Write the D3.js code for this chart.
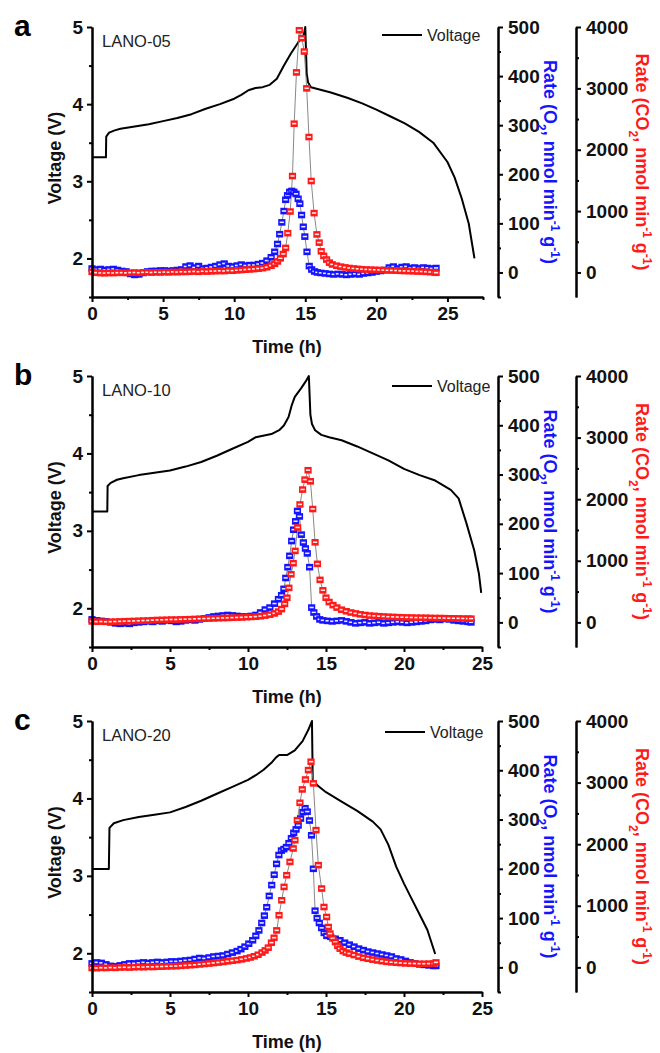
<!DOCTYPE html>
<html><head><meta charset="utf-8">
<script src="https://cdn.jsdelivr.net/npm/d3@7"></script>
<style>body{margin:0;background:#fff}svg{display:block}text{font-family:"Liberation Sans",Arial,sans-serif}</style>
</head><body><svg id="chart" width="660" height="1053"></svg>
<script>
// ---------- data ----------
const panelLetters = ["a", "b", "c"];
const sampleNames = ["LANO-05", "LANO-10", "LANO-20"];
const timeMax = [27.5, 25, 25];
const xTicks = [0, 5, 10, 15, 20, 25];
const voltageTicks = [2, 3, 4, 5];
const o2Ticks = [0, 100, 200, 300, 400, 500];
const co2Ticks = [0, 1000, 2000, 3000, 4000];
const legendLabel = "Voltage";

const voltageA = [[0,3.31],[0.98,3.31],[1.0,3.58],[1.2,3.63],[1.6,3.66],[2,3.68],[3,3.71],[4,3.74],[5,3.78],[6,3.82],[7,3.87],[8,3.94],[9,4.0],[10,4.07],[10.5,4.12],[11,4.18],[11.5,4.21],[12,4.22],[12.5,4.25],[13,4.33],[13.5,4.5],[14,4.66],[14.5,4.8],[14.9,4.9],[15.0,5.0],[15.1,4.4],[15.2,4.28],[15.4,4.22],[16,4.19],[16.8,4.15],[18,4.08],[19,4.01],[20,3.93],[21,3.84],[22,3.75],[23,3.64],[24,3.5],[25,3.25],[25.5,3.05],[26,2.78],[26.5,2.45],[26.9,2.0]];
const o2A = [[0,8],[0.3,6],[0.6,7],[0.9,5],[1.2,6],[1.5,7],[1.8,5],[2.1,3],[2.4,2],[2.7,-3],[3.0,-5],[3.3,-4],[3.6,-1],[3.9,2],[4.2,3],[4.5,3],[4.8,4],[5.1,4],[5.4,3],[5.7,4],[6.0,5],[6.3,6],[6.6,12],[6.9,14],[7.2,10],[7.5,13],[7.8,8],[8.1,9],[8.4,11],[8.7,13],[9.0,16],[9.3,18],[9.6,13],[9.9,12],[10.2,14],[10.5,16],[10.8,14],[11.1,15],[11.4,15],[11.7,17],[12.0,19],[12.3,24],[12.6,31],[12.85,42],[13.05,58],[13.2,78],[13.35,102],[13.5,125],[13.62,148],[13.75,157],[13.9,164],[14.05,166],[14.2,164],[14.35,160],[14.5,150],[14.62,140],[14.74,117],[14.86,93],[14.97,73],[15.12,42],[15.28,13],[15.45,6],[15.65,2],[15.85,0],[16.1,-1],[16.4,-2],[16.7,-3],[17.0,-4],[17.3,-3],[17.6,-4],[17.9,-5],[18.2,-4],[18.5,-3],[18.8,-4],[19.1,-2],[19.4,-1],[19.7,0],[20.0,2],[20.3,3],[20.6,5],[20.9,10],[21.2,12],[21.5,8],[21.8,11],[22.1,12],[22.4,9],[22.7,10],[23.0,8],[23.3,10],[23.6,9],[23.9,8],[24.2,9]];
const co2A = [[0,10],[0.3,-5],[0.6,-10],[0.9,-12],[1.2,-8],[1.5,-10],[1.8,-6],[2.1,-5],[2.4,-8],[2.7,-4],[3.0,-2],[3.3,-6],[3.6,0],[3.9,2],[4.2,-2],[4.5,3],[4.8,0],[5.1,5],[5.4,2],[5.7,8],[6.0,5],[6.3,10],[6.6,8],[6.9,12],[7.2,15],[7.5,10],[7.8,18],[8.1,15],[8.4,20],[8.7,22],[9.0,25],[9.3,22],[9.6,30],[9.9,28],[10.2,35],[10.5,40],[10.8,45],[11.1,50],[11.4,55],[11.7,62],[12.0,70],[12.3,85],[12.6,110],[12.85,140],[13.05,180],[13.25,230],[13.45,300],[13.62,400],[13.77,640],[13.94,993],[14.1,1571],[14.22,2424],[14.38,3260],[14.58,3947],[14.76,3817],[14.93,3600],[15.1,3000],[15.26,2207],[15.42,1490],[15.62,967],[15.82,620],[15.98,486],[16.12,345],[16.3,270],[16.5,210],[16.7,160],[16.9,130],[17.2,110],[17.5,95],[17.8,82],[18.1,72],[18.4,64],[18.7,58],[19.0,52],[19.3,48],[19.6,45],[19.9,42],[20.2,40],[20.5,38],[20.8,34],[21.1,32],[21.4,30],[21.7,26],[22.0,24],[22.3,22],[22.6,20],[22.9,16],[23.2,14],[23.5,10],[23.8,6],[24.1,0],[24.2,-5]];

const voltageB = [[0,3.25],[0.98,3.25],[1.0,3.58],[1.2,3.62],[1.6,3.66],[2,3.68],[3,3.72],[4,3.75],[5,3.78],[6,3.83],[7,3.89],[8,3.97],[9,4.06],[10,4.15],[10.5,4.21],[11.5,4.25],[12.0,4.3],[12.3,4.36],[12.6,4.47],[12.8,4.62],[13.0,4.73],[13.4,4.84],[13.7,4.93],[13.9,5.0],[14.0,4.5],[14.1,4.38],[14.3,4.3],[14.7,4.24],[15.2,4.21],[16,4.17],[17,4.09],[18,4.0],[19,3.91],[20,3.8],[21,3.72],[22,3.65],[23,3.53],[23.5,3.42],[24,3.1],[24.5,2.75],[24.8,2.45],[24.95,2.2]];
const o2B = [[0,6],[0.3,4],[0.6,3],[0.9,2],[1.2,0],[1.5,-2],[1.8,-3],[2.1,-2],[2.4,-3],[2.7,-1],[3.0,0],[3.3,1],[3.6,2],[3.9,1],[4.2,3],[4.5,2],[4.8,4],[5.1,3],[5.4,1],[5.7,2],[6.0,4],[6.3,5],[6.6,4],[6.9,6],[7.2,8],[7.5,10],[7.8,12],[8.1,13],[8.4,14],[8.7,15],[9.0,14],[9.3,13],[9.6,12],[9.9,12],[10.2,13],[10.5,15],[10.8,20],[11.1,26],[11.4,30],[11.7,38],[11.95,47],[12.15,55],[12.3,68],[12.42,90],[12.55,112],[12.67,135],[12.8,165],[12.92,188],[13.05,205],[13.17,226],[13.3,215],[13.42,178],[13.55,162],[13.68,150],[13.8,140],[13.95,112],[14.08,30],[14.22,20],[14.4,12],[14.6,6],[14.8,4],[15.1,3],[15.4,2],[15.7,3],[16.0,4],[16.3,2],[16.6,0],[16.9,-2],[17.2,-1],[17.5,0],[17.8,-2],[18.1,-1],[18.4,0],[18.7,-2],[19.0,-1],[19.3,0],[19.6,1],[19.9,0],[20.2,-1],[20.5,0],[20.8,1],[21.1,2],[21.4,3],[21.7,5],[22.0,6],[22.3,5],[22.6,7],[22.9,6],[23.2,4],[23.5,3],[23.8,2],[24.1,1],[24.3,0]];
const co2B = [[0,15],[0.3,10],[0.6,12],[0.9,8],[1.2,10],[1.5,12],[1.8,15],[2.1,18],[2.4,20],[2.7,22],[3.0,25],[3.3,28],[3.6,30],[3.9,35],[4.2,38],[4.5,40],[4.8,42],[5.1,45],[5.4,45],[5.7,48],[6.0,50],[6.3,52],[6.6,55],[6.9,58],[7.2,60],[7.5,62],[7.8,65],[8.1,68],[8.4,70],[8.7,72],[9.0,75],[9.3,78],[9.6,80],[9.9,85],[10.2,88],[10.5,92],[10.8,100],[11.1,110],[11.4,125],[11.7,145],[11.95,175],[12.15,215],[12.35,300],[12.5,400],[12.62,560],[12.76,780],[12.9,960],[13.02,1160],[13.18,1540],[13.33,1914],[13.5,2156],[13.65,2317],[13.85,2470],[14.0,2290],[14.15,1840],[14.3,1300],[14.45,950],[14.62,690],[14.8,520],[15.0,400],[15.2,330],[15.45,280],[15.7,240],[16.0,205],[16.3,180],[16.6,160],[16.9,145],[17.2,130],[17.5,120],[17.8,110],[18.1,105],[18.4,100],[18.7,95],[19.0,90],[19.3,88],[19.6,85],[19.9,82],[20.2,80],[20.5,78],[20.8,76],[21.1,75],[21.4,74],[21.7,72],[22.0,70],[22.3,70],[22.6,68],[22.9,66],[23.2,65],[23.5,64],[23.8,62],[24.1,60],[24.3,60]];

const voltageC = [[0,3.09],[1.08,3.09],[1.12,3.62],[1.4,3.68],[2,3.72],[3,3.76],[4,3.79],[5,3.82],[6,3.89],[7,3.97],[8,4.06],[9,4.15],[10,4.24],[10.5,4.3],[11,4.37],[11.5,4.46],[11.8,4.53],[12,4.56],[12.5,4.56],[13,4.62],[13.5,4.74],[13.9,4.9],[14.1,5.0],[14.15,4.24],[14.5,4.16],[15,4.08],[16,3.96],[17,3.84],[18,3.7],[18.5,3.6],[19,3.4],[19.5,3.12],[20,2.9],[20.5,2.7],[21,2.5],[21.5,2.3],[22,1.99]];
const o2C = [[0,8],[0.3,10],[0.6,9],[0.9,6],[1.2,3],[1.5,2],[1.8,4],[2.1,6],[2.4,8],[2.7,8],[3.0,9],[3.3,10],[3.6,9],[3.9,10],[4.2,11],[4.5,10],[4.8,11],[5.1,12],[5.4,12],[5.7,13],[6.0,14],[6.3,15],[6.6,17],[6.9,19],[7.2,18],[7.5,20],[7.8,22],[8.1,23],[8.4,24],[8.7,27],[9.0,30],[9.3,33],[9.55,37],[9.8,42],[10.05,48],[10.3,55],[10.5,64],[10.7,75],[10.88,90],[11.05,105],[11.2,122],[11.36,145],[11.52,167],[11.68,188],[11.83,210],[11.98,228],[12.14,237],[12.3,240],[12.46,244],[12.62,252],[12.78,262],[12.93,273],[13.08,280],[13.22,288],[13.37,302],[13.52,315],[13.66,323],[13.8,316],[13.94,298],[14.07,268],[14.19,200],[14.3,115],[14.43,100],[14.57,90],[14.72,80],[14.88,70],[15.05,64],[15.3,62],[15.6,58],[15.9,55],[16.2,50],[16.5,46],[16.8,42],[17.1,38],[17.4,35],[17.7,32],[18.0,30],[18.3,28],[18.6,26],[18.9,24],[19.2,22],[19.5,18],[19.8,16],[20.1,13],[20.4,10],[20.7,8],[21.0,6],[21.3,5],[21.6,4],[21.9,3],[22.05,3]];
const co2C = [[0,-10],[0.3,-12],[0.6,-8],[0.9,-10],[1.2,-5],[1.5,-8],[1.8,-2],[2.1,0],[2.4,-3],[2.7,2],[3.0,5],[3.3,3],[3.6,8],[3.9,6],[4.2,10],[4.5,12],[4.8,15],[5.1,18],[5.4,20],[5.7,25],[6.0,30],[6.3,35],[6.6,40],[6.9,48],[7.2,55],[7.5,62],[7.8,70],[8.1,78],[8.4,88],[8.7,98],[9.0,108],[9.3,118],[9.6,130],[9.9,145],[10.15,160],[10.4,180],[10.65,205],[10.9,240],[11.1,275],[11.3,320],[11.5,400],[11.67,480],[11.84,600],[11.99,846],[12.16,1089],[12.31,1306],[12.48,1496],[12.69,1712],[12.9,1930],[13.01,2065],[13.16,2390],[13.33,2672],[13.48,2889],[13.68,3050],[13.87,3203],[14.04,3338],[14.19,2987],[14.36,2228],[14.51,1659],[14.72,1280],[14.87,980],[15.04,818],[15.15,655],[15.26,548],[15.43,470],[15.6,411],[15.75,350],[15.9,304],[16.1,265],[16.3,240],[16.5,223],[16.8,200],[17.1,175],[17.4,155],[17.7,140],[18.0,125],[18.3,112],[18.6,100],[18.9,90],[19.2,82],[19.5,75],[19.8,70],[20.1,65],[20.4,62],[20.7,60],[21.0,58],[21.3,58],[21.6,60],[21.9,62],[22.05,80]];

const voltageSeries = [voltageA, voltageB, voltageC];
const o2Series = [o2A, o2B, o2C];
const co2Series = [co2A, co2B, co2C];

// ---------- layout ----------
const svg = d3.select("#chart");
const left = 92, xO2 = 498, xCO2 = 576;
const layout = [
  {top: 27, bottom: 297, right: 483, legX: 382, legY: 35},
  {top: 376, bottom: 647, right: 482, legX: 392, legY: 386},
  {top: 721, bottom: 992, right: 482, legX: 385, legY: 732}
];
const BLUE = "#1414ff", RED = "#ff1a1a";
const FONT = '"Liberation Sans", Arial, sans-serif';

function styleAxis(g, fs) {
  g.selectAll("path.domain").attr("stroke", "#000").attr("stroke-width", 2);
  g.selectAll(".tick line").attr("stroke", "#000").attr("stroke-width", 2);
  g.selectAll(".tick text").attr("fill", "#111").attr("font-size", fs).attr("font-weight", "bold").attr("font-family", FONT);
}

function addRateTitle(x, y, color, gas, sub) {
  const t = svg.append("text")
    .attr("transform", `translate(${x},${y}) rotate(90)`)
    .attr("text-anchor", "middle").attr("font-size", 18).attr("font-weight", "bold")
    .attr("fill", color).attr("font-family", FONT);
  t.append("tspan").text("Rate (" + gas);
  t.append("tspan").attr("baseline-shift", "sub").attr("font-size", 12).text(sub);
  t.append("tspan").text(", nmol min");
  t.append("tspan").attr("baseline-shift", "super").attr("font-size", 12).text("-1");
  t.append("tspan").text(" g");
  t.append("tspan").attr("baseline-shift", "super").attr("font-size", 12).text("-1");
  t.append("tspan").text(")");
}

layout.forEach((L, i) => {
  const x = d3.scaleLinear().domain([0, timeMax[i]]).range([left, L.right]);
  const yV = d3.scaleLinear().domain([1.5, 5]).range([L.bottom, L.top]);
  const yO2 = d3.scaleLinear().domain([-50, 500]).range([L.bottom, L.top]);
  const yCO2 = d3.scaleLinear().domain([-400, 4000]).range([L.bottom, L.top]);
  const mid = (L.top + L.bottom) / 2;

  // voltage line
  svg.append("path").datum(voltageSeries[i])
    .attr("d", d3.line().x(d => x(d[0])).y(d => yV(d[1])))
    .attr("fill", "none").attr("stroke", "#000").attr("stroke-width", 2)
    .attr("stroke-linejoin", "round");

  // rate connecting lines
  [[o2Series[i], yO2], [co2Series[i], yCO2]].forEach(([data, ys]) => {
    svg.append("path").datum(data)
      .attr("d", d3.line().x(d => x(d[0])).y(d => ys(d[1])))
      .attr("fill", "none").attr("stroke", "#7a7a7a").attr("stroke-width", 0.9);
  });
  // markers
  [[o2Series[i], yO2, BLUE], [co2Series[i], yCO2, RED]].forEach(([data, ys, col]) => {
    const g = svg.append("g");
    const m = g.selectAll("g").data(data).join("g")
      .attr("transform", d => `translate(${x(d[0])},${ys(d[1])})`);
    m.append("rect").attr("x", -3.6).attr("y", -3.3).attr("width", 7.2).attr("height", 6.6)
      .attr("fill", col);
    m.append("rect").attr("x", -2.1).attr("y", -0.9).attr("width", 4.2).attr("height", 1.6)
      .attr("fill", "#fff").attr("opacity", 0.9);
  });

  // axes
  const minorX = d3.range(2.5, timeMax[i] + 0.01, 5);
  const gx = svg.append("g").attr("transform", `translate(0,${L.bottom})`)
    .call(d3.axisBottom(x).tickValues(xTicks.filter(v => v <= timeMax[i])).tickSize(5).tickSizeOuter(0).tickPadding(5).tickFormat(d3.format("d")));
  styleAxis(gx, 19);
  const gxm = svg.append("g").attr("transform", `translate(0,${L.bottom})`)
    .call(d3.axisBottom(x).tickValues(minorX).tickSize(3).tickSizeOuter(0).tickFormat(""));
  styleAxis(gxm, 19);

  const gy = svg.append("g").attr("transform", `translate(${left},0)`)
    .call(d3.axisLeft(yV).tickValues(voltageTicks).tickSize(5).tickSizeOuter(0).tickPadding(4).tickFormat(d3.format("d")));
  styleAxis(gy, 19);
  const gym = svg.append("g").attr("transform", `translate(${left},0)`)
    .call(d3.axisLeft(yV).tickValues([1.5, 2.5, 3.5, 4.5]).tickSize(3).tickSizeOuter(0).tickFormat(""));
  styleAxis(gym, 19);

  const go = svg.append("g").attr("transform", `translate(${xO2},0)`)
    .call(d3.axisRight(yO2).tickValues(o2Ticks).tickSize(5).tickSizeOuter(0).tickPadding(5).tickFormat(d3.format("d")));
  styleAxis(go, 19);
  const gom = svg.append("g").attr("transform", `translate(${xO2},0)`)
    .call(d3.axisRight(yO2).tickValues([-50, 50, 150, 250, 350, 450]).tickSize(3).tickSizeOuter(0).tickFormat(""));
  styleAxis(gom, 19);

  const gc = svg.append("g").attr("transform", `translate(${xCO2},0)`)
    .call(d3.axisRight(yCO2).tickValues(co2Ticks).tickSize(5).tickSizeOuter(0).tickPadding(5).tickFormat(d3.format("d")));
  styleAxis(gc, 19);
  const gcm = svg.append("g").attr("transform", `translate(${xCO2},0)`)
    .call(d3.axisRight(yCO2).tickValues([500, 1500, 2500, 3500]).tickSize(3).tickSizeOuter(0).tickFormat(""));
  styleAxis(gcm, 19);

  // titles
  svg.append("text").attr("x", (left + 482) / 2).attr("y", L.bottom + 56)
    .attr("text-anchor", "middle").attr("font-size", 18).attr("font-weight", "bold")
    .attr("fill", "#111").text("Time (h)");
  svg.append("text").attr("transform", `translate(61,${mid - 4}) rotate(-90)`)
    .attr("text-anchor", "middle").attr("font-size", 18).attr("font-weight", "bold")
    .attr("fill", "#111").text("Voltage (V)");
  addRateTitle(544, mid, BLUE, "O", "2");
  addRateTitle(636, mid, RED, "CO", "2");

  // panel letter & sample label
  svg.append("text").attr("x", 14).attr("y", L.top + 9).attr("font-size", 30)
    .attr("font-weight", "bold").attr("fill", "#000").text(panelLetters[i]);
  svg.append("text").attr("x", 102).attr("y", L.top + 20).attr("font-size", 16.5)
    .attr("fill", "#222").text(sampleNames[i]);

  // legend
  svg.append("line").attr("x1", L.legX).attr("x2", L.legX + 40).attr("y1", L.legY).attr("y2", L.legY)
    .attr("stroke", "#000").attr("stroke-width", 2);
  svg.append("text").attr("x", L.legX + 45).attr("y", L.legY + 6).attr("font-size", 16)
    .attr("fill", "#222").text(legendLabel);
});
</script></body></html>
